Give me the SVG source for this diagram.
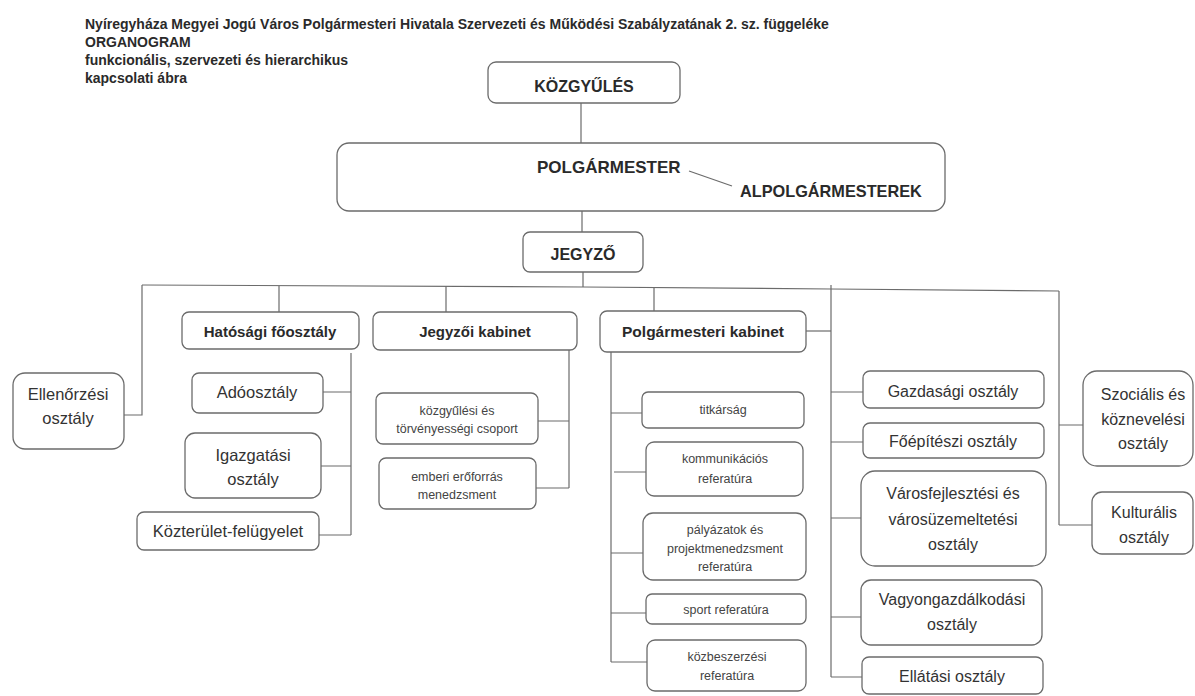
<svg xmlns="http://www.w3.org/2000/svg" width="1195" height="696" viewBox="0 0 1195 696">
<style>
.bg{fill:#ffffff}
.box{fill:#ffffff;stroke:#6b6b6b;stroke-width:1.3}
.ln{fill:none;stroke:#6b6b6b;stroke-width:1.2}
text{font-family:"Liberation Sans",Arial,sans-serif;fill:#333333}
.hd{font-size:14px;font-weight:bold;fill:#2a2a2a}
.b16{font-size:16px;font-weight:bold;fill:#2a2a2a;text-anchor:middle}
.b17{font-size:17px;font-weight:bold;fill:#2a2a2a}
.b15{font-size:15px;font-weight:bold;fill:#2a2a2a;text-anchor:middle}
.r16{font-size:16.5px;text-anchor:middle}
.r16b{font-size:16px;text-anchor:middle}
.s12{font-size:12.5px;text-anchor:middle;fill:#444444}
</style>
<rect class="bg" x="0" y="0" width="1195" height="696"/>

<g id="header">
<text class="hd" x="85" y="29">Nyíregyháza Megyei Jogú Város Polgármesteri Hivatala Szervezeti és Működési Szabályzatának 2. sz. függeléke</text>
<text class="hd" x="85" y="47">ORGANOGRAM</text>
<text class="hd" x="85" y="65">funkcionális, szervezeti és hierarchikus</text>
<text class="hd" x="85" y="83">kapcsolati ábra</text>
</g>

<g id="connectors">
<path class="ln" d="M581,103 V143"/>
<path class="ln" d="M582,211 V232"/>
<path class="ln" d="M583,272 V287"/>
<path class="ln" d="M142,285 L583,287 L831,289 L1059,291"/>
<path class="ln" d="M142,285 V415 H124"/>
<path class="ln" d="M279,286 V312"/>
<path class="ln" d="M446,286 V312"/>
<path class="ln" d="M654,288 V311"/>
<path class="ln" d="M806,331 H831"/>
<path class="ln" d="M831,285 V677"/>
<path class="ln" d="M1059,291 V525"/>
<path class="ln" d="M351,353 V535"/>
<path class="ln" d="M323,392 H351 M321,466 H351 M319,535 H351"/>
<path class="ln" d="M569,350 V488"/>
<path class="ln" d="M538,421 H569 M536,488 H569"/>
<path class="ln" d="M611,352 V662"/>
<path class="ln" d="M611,413 H642 M614,472 H646 M611,553 H643 M611,613 H646 M611,662 H647"/>
<path class="ln" d="M831,392 H863 M831,442 H863 M831,518 H861 M831,617 H861 M831,677 H862"/>
<path class="ln" d="M1059,425 H1083 M1059,525 H1092"/>
</g>

<g id="kozgyules">
<rect class="box" x="488" y="62" width="192" height="41" rx="8"/>
<text class="b16" x="584" y="92">KÖZGYŰLÉS</text>
</g>

<g id="polgarmester">
<rect class="box" x="337" y="143" width="608" height="68" rx="12"/>
<text class="b17" x="537" y="173">POLGÁRMESTER</text>
<path class="ln" d="M689,171 L732,186"/>
<text class="b17" x="740" y="197" style="font-size:16.3px">ALPOLGÁRMESTEREK</text>
</g>

<g id="jegyzo">
<rect class="box" x="523" y="232" width="120" height="40" rx="7"/>
<text class="b16" x="583" y="260">JEGYZŐ</text>
</g>

<g id="ellenorzesi">
<rect class="box" x="13" y="373" width="111" height="76" rx="12"/>
<text class="r16" x="68" y="400">Ellenőrzési</text>
<text class="r16" x="68" y="424">osztály</text>
</g>

<g id="hatosagi">
<rect class="box" x="182" y="312" width="177" height="37" rx="7"/>
<text class="b15" x="270" y="337">Hatósági főosztály</text>
</g>

<g id="jegyzoi-kabinet">
<rect class="box" x="373" y="312" width="204" height="38" rx="7"/>
<text class="b15" x="475" y="337">Jegyzői kabinet</text>
</g>

<g id="polgarmesteri-kabinet">
<rect class="box" x="600" y="311" width="206" height="41" rx="7"/>
<text class="b15" x="703" y="337" style="font-size:15.5px">Polgármesteri kabinet</text>
</g>

<g id="adoosztaly">
<rect class="box" x="192" y="373" width="131" height="40" rx="7"/>
<text class="r16" x="257" y="398">Adóosztály</text>
</g>

<g id="igazgatasi">
<rect class="box" x="185" y="433" width="136" height="65" rx="10"/>
<text class="r16" x="253" y="461">Igazgatási</text>
<text class="r16" x="253" y="485">osztály</text>
</g>

<g id="kozterulet">
<rect class="box" x="137" y="512" width="182" height="38" rx="7"/>
<text class="r16" x="228" y="537">Közterület-felügyelet</text>
</g>

<g id="kozgyulesi-csoport">
<rect class="box" x="376" y="393" width="162" height="51" rx="7"/>
<text class="s12" x="457" y="415">közgyűlési és</text>
<text class="s12" x="457" y="433">törvényességi csoport</text>
</g>

<g id="emberi-eroforras">
<rect class="box" x="379" y="458" width="157" height="51" rx="7"/>
<text class="s12" x="457" y="481">emberi erőforrás</text>
<text class="s12" x="457" y="499">menedzsment</text>
</g>

<g id="titkarsag">
<rect class="box" x="642" y="392" width="162" height="36" rx="6"/>
<text class="s12" x="723" y="414">titkárság</text>
</g>

<g id="kommunikacios">
<rect class="box" x="646" y="442" width="157" height="54" rx="8"/>
<text class="s12" x="725" y="463">kommunikációs</text>
<text class="s12" x="725" y="483">referatúra</text>
</g>

<g id="palyazatok">
<rect class="box" x="643" y="513" width="163" height="67" rx="10"/>
<text class="s12" x="725" y="534">pályázatok és</text>
<text class="s12" x="725" y="553">projektmenedzsment</text>
<text class="s12" x="725" y="571">referatúra</text>
</g>

<g id="sport">
<rect class="box" x="646" y="594" width="160" height="30" rx="6"/>
<text class="s12" x="726" y="614">sport referatúra</text>
</g>

<g id="kozbeszerzesi">
<rect class="box" x="647" y="640" width="159" height="51" rx="8"/>
<text class="s12" x="727" y="661">közbeszerzési</text>
<text class="s12" x="727" y="680">referatúra</text>
</g>

<g id="gazdasagi">
<rect class="box" x="863" y="371" width="181" height="37" rx="7"/>
<text class="r16b" x="953" y="397">Gazdasági osztály</text>
</g>

<g id="foepiteszi">
<rect class="box" x="863" y="423" width="181" height="35" rx="7"/>
<text class="r16b" x="953" y="447">Főépítészi osztály</text>
</g>

<g id="varosfejlesztesi">
<rect class="box" x="861" y="471" width="185" height="95" rx="14"/>
<text class="r16b" x="953" y="499">Városfejlesztési és</text>
<text class="r16b" x="953" y="525">városüzemeltetési</text>
<text class="r16b" x="953" y="550">osztály</text>
</g>

<g id="vagyongazdalkodasi">
<rect class="box" x="861" y="580" width="181" height="65" rx="10"/>
<text class="r16b" x="952" y="605">Vagyongazdálkodási</text>
<text class="r16b" x="952" y="630">osztály</text>
</g>

<g id="ellatasi">
<rect class="box" x="862" y="657" width="181" height="37" rx="7"/>
<text class="r16b" x="952" y="682">Ellátási osztály</text>
</g>

<g id="szocialis">
<rect class="box" x="1083" y="371" width="110" height="95" rx="14"/>
<text class="r16b" x="1143" y="400">Szociális és</text>
<text class="r16b" x="1143" y="425">köznevelési</text>
<text class="r16b" x="1143" y="449">osztály</text>
</g>

<g id="kulturalis">
<rect class="box" x="1092" y="492" width="101" height="62" rx="10"/>
<text class="r16b" x="1144" y="518">Kulturális</text>
<text class="r16b" x="1144" y="543">osztály</text>
</g>
</svg>
